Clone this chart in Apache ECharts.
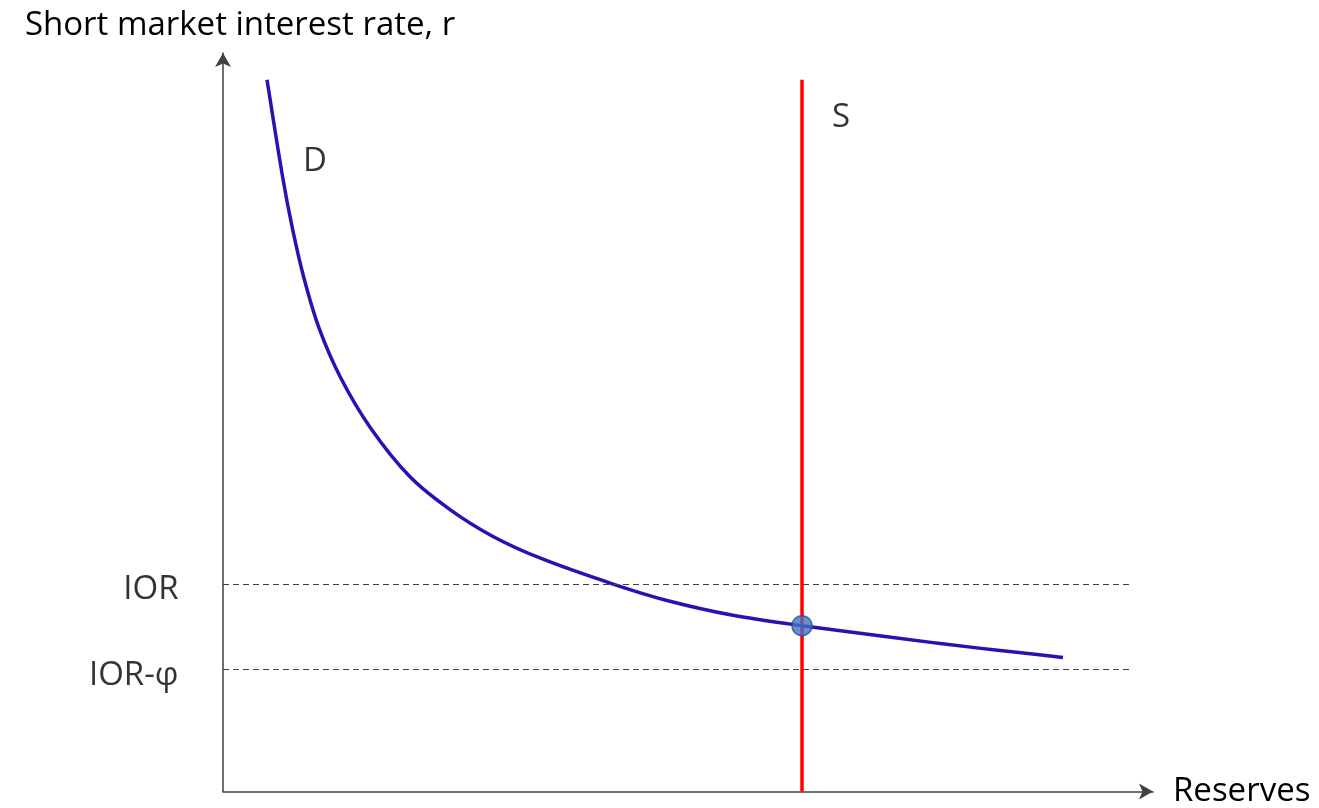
<!DOCTYPE html>
<html>
<head>
<meta charset="utf-8">
<title>Reserves market</title>
<script src="https://cdn.jsdelivr.net/npm/echarts@6/dist/echarts.min.js"></script>
<style>
  html, body { margin: 0; padding: 0; background: #ffffff; }
  #chart { width: 1319px; height: 808px; }
</style>
</head>
<body>
<div id="chart"></div>
<script>
// Demand for reserves (D): points along the downward-sloping curve
const demandReserves = [4.73, 6.45, 7.47, 8.71, 10.32, 12.64, 15.81, 20.11, 24.41, 29.03, 34.41, 41.94, 47.74, 54.84, 62.26, 76.34, 83.55, 90.32];
const demandRate     = [96.37, 82.93, 76.21, 69.49, 62.77, 56.05, 49.33, 42.61, 38.17, 34.54, 31.45, 28.09, 25.87, 23.86, 22.45, 20.16, 19.09, 18.15];

// Vertical supply of reserves (S)
const supplyReserves = 62.26;
const supplyRateRange = [0, 96.37];

// Equilibrium where S meets D
const equilibrium = [62.26, 22.45];

// Administered rate levels shown on the vertical axis
const levelLabels = ['IOR', 'IOR-\u03c6'];
const levelValues = [28.09, 16.53];
const levelEnd = 97.85;

const axisTitleY = 'Short market interest rate, r';
const axisTitleX = 'Reserves';
const demandName = 'D';
const supplyName = 'S';

const FONT = 'Open Sans';
const FS = 33;
const TEXT = '#000000';
const AXIS = '#404040';

const hidden = { color: 'rgba(0,0,0,0)' };

const demandPoints = demandReserves.map((x, i) => [x, demandRate[i]]);

const levelLines = levelValues.map(v => [
  { coord: [0, v] },
  { coord: [levelEnd, v] }
]);

// Smooth path through the demand points: cubic segments whose handles follow
// the local tangent and scale with each segment's own length.
function smoothPath(pts) {
  const n = pts.length;
  const tan = pts.map((p, i) => {
    const a = pts[Math.max(0, i - 1)];
    const b = pts[Math.min(n - 1, i + 1)];
    const dx = b[0] - a[0], dy = b[1] - a[1];
    const len = Math.hypot(dx, dy) || 1;
    return [dx / len, dy / len];
  });
  let d = 'M' + pts[0][0] + ' ' + pts[0][1];
  for (let i = 0; i < n - 1; i++) {
    const p = pts[i], q = pts[i + 1];
    const L = Math.hypot(q[0] - p[0], q[1] - p[1]) / 3;
    const c1 = [p[0] + tan[i][0] * L, p[1] + tan[i][1] * L];
    const c2 = [q[0] - tan[i + 1][0] * L, q[1] - tan[i + 1][1] * L];
    d += ' C' + c1[0] + ' ' + c1[1] + ' ' + c2[0] + ' ' + c2[1] + ' ' + q[0] + ' ' + q[1];
  }
  return d;
}

const chart = echarts.init(document.getElementById('chart'), null, { renderer: 'canvas' });

chart.setOption({
  animation: false,
  backgroundColor: '#ffffff',
  grid: { left: 223, top: 53, width: 930, height: 744, containLabel: false },
  xAxis: {
    type: 'value', min: 0, max: 100,
    name: axisTitleX, nameLocation: 'end', nameGap: 20,
    nameTextStyle: { fontSize: FS, fontFamily: FONT, color: TEXT, align: 'left', verticalAlign: 'middle' },
    axisLine: { show: true, symbol: ['none', 'arrow'], symbolSize: [12, 14], lineStyle: { color: AXIS, width: 1.5 } },
    axisTick: { show: false }, axisLabel: { show: false }, splitLine: { show: false }
  },
  yAxis: {
    type: 'value', min: 0, max: 100,
    name: axisTitleY, nameLocation: 'end', nameGap: 11,
    nameTextStyle: { fontSize: FS, fontFamily: FONT, color: TEXT, align: 'center', verticalAlign: 'bottom', padding: [0, 0, 0, 34] },
    axisLine: { show: true, symbol: ['none', 'arrow'], symbolSize: [12, 14], lineStyle: { color: AXIS, width: 1.5 } },
    axisTick: { show: false }, axisLabel: { show: false }, splitLine: { show: false }
  },
  series: [
    {
      name: 'levels',
      type: 'line',
      data: [],
      silent: true,
      markLine: {
        symbol: ['none', 'none'],
        silent: true,
        label: { show: false },
        lineStyle: { color: AXIS, width: 1.2, type: [6, 4] },
        data: levelLines
      }
    },
    {
      name: 'levelLabels',
      type: 'scatter',
      silent: true,
      symbolSize: 1,
      itemStyle: hidden,
      data: levelValues.map((v, i) => ({ value: [0, v], name: levelLabels[i] })),
      label: {
        show: true, position: 'left', distance: 44, offset: [0, 6],
        formatter: p => p.name,
        fontSize: FS, fontFamily: FONT, color: TEXT, textBorderWidth: 0
      }
    },
    {
      name: supplyName,
      type: 'line',
      data: supplyRateRange.map(r => [supplyReserves, r]),
      showSymbol: false,
      symbol: 'none',
      lineStyle: { color: '#ff0000', width: 3.5 },
      z: 3
    },
    {
      name: demandName,
      type: 'custom',
      silent: true,
      data: demandPoints,
      encode: { x: 0, y: 1 },
      renderItem: (params, api) => {
        if (params.dataIndex !== 0) return null;
        const px = demandPoints.map(p => api.coord(p));
        return {
          type: 'path',
          shape: { pathData: smoothPath(px), layout: 'cover' },
          style: { fill: 'none', stroke: '#2b10b2', lineWidth: 3.5 }
        };
      },
      z: 4
    },
    {
      name: 'curveLabels',
      type: 'scatter',
      silent: true,
      symbolSize: 1,
      itemStyle: hidden,
      data: [
        { value: demandPoints[1], name: demandName, label: { offset: [32, -17] } },
        { value: [supplyReserves, supplyRateRange[1]], name: supplyName, label: { offset: [39, 38] } }
      ],
      label: {
        show: true, position: 'inside',
        formatter: p => p.name,
        fontSize: FS, fontFamily: FONT, color: TEXT, textBorderWidth: 0
      }
    },
    {
      name: 'equilibrium',
      type: 'scatter',
      data: [equilibrium],
      symbolSize: 20,
      itemStyle: { color: '#4472c4', borderColor: '#2f528f', borderWidth: 1.5 },
      z: 5
    }
  ]
});
</script>
</body>
</html>
